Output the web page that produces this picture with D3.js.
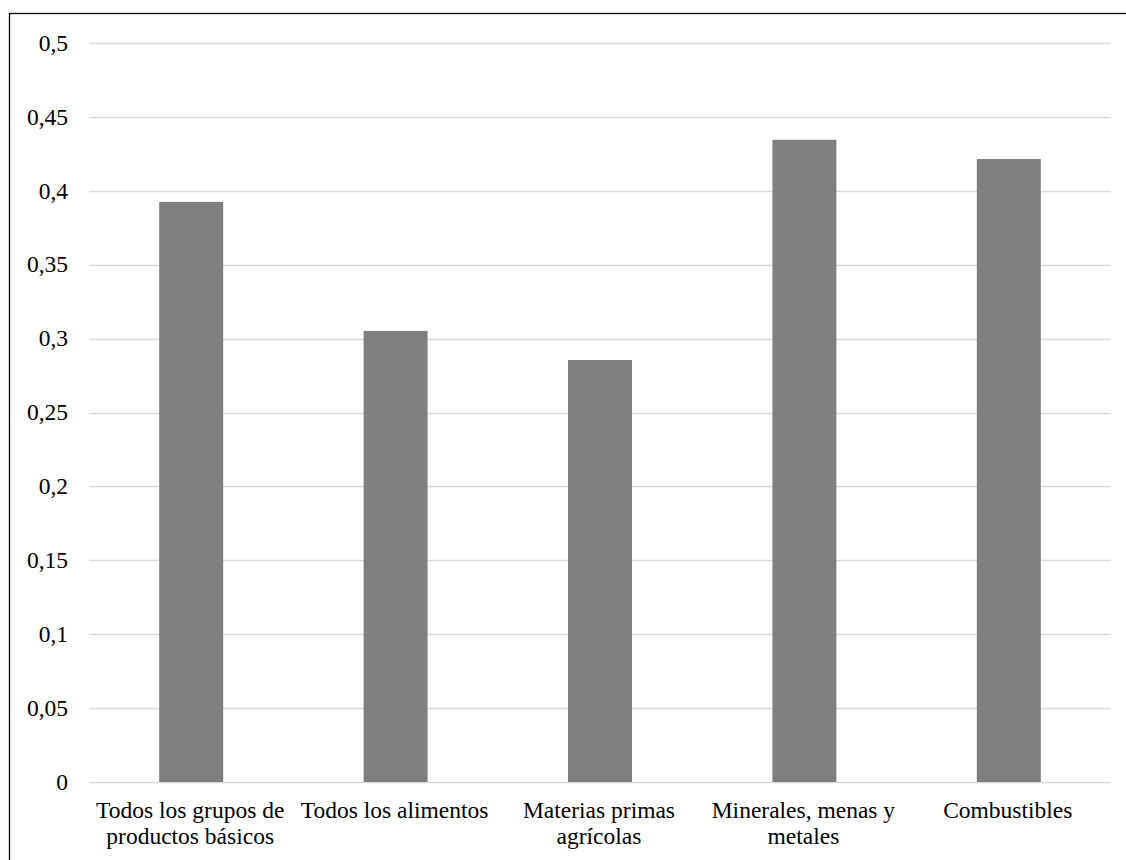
<!DOCTYPE html>
<html>
<head>
<meta charset="utf-8">
<script src="https://cdn.jsdelivr.net/npm/d3@7"></script>
<style>
  html, body { margin: 0; padding: 0; background: #fff; }
  svg { display: block; }
  .lbl { font-family: "Liberation Serif", "Times New Roman", Tinos, "DejaVu Serif", "Noto Serif", serif; }
</style>
</head>
<body>
<svg id="chart" width="1126" height="860"></svg>
<script>
// Categories (two-line labels) and their values
const categories = [
  "Todos los grupos de productos básicos",
  "Todos los alimentos",
  "Materias primas agrícolas",
  "Minerales, menas y metales",
  "Combustibles"
];
const labelLines = [
  ["Todos los grupos de", "productos básicos"],
  ["Todos los alimentos"],
  ["Materias primas", "agrícolas"],
  ["Minerales, menas y", "metales"],
  ["Combustibles"]
];
const values = [0.3925, 0.3052, 0.2855, 0.4345, 0.4215];
const yTicks = [0, 0.05, 0.1, 0.15, 0.2, 0.25, 0.3, 0.35, 0.4, 0.45, 0.5];

const svg = d3.select("#chart");
const fontSize = 23.5;

// Outer frame
svg.append("rect")
  .attr("x", 9.5).attr("y", 13.5)
  .attr("width", 1130).attr("height", 860)
  .attr("fill", "none").attr("stroke", "#000").attr("stroke-width", 1.3);

const plot = { left: 89, right: 1111, top: 43, bottom: 782 };

const x = d3.scaleBand()
  .domain(categories)
  .range([plot.left, plot.right])
  .paddingInner(0.687)
  .paddingOuter(0.3435);

const y = d3.scaleLinear().domain([0, 0.5]).range([plot.bottom, plot.top]);

// Gridlines
svg.append("g")
  .selectAll("line")
  .data(yTicks)
  .join("line")
  .attr("x1", plot.left).attr("x2", plot.right)
  .attr("y1", d => Math.round(y(d)) + 0.5)
  .attr("y2", d => Math.round(y(d)) + 0.5)
  .attr("stroke", "#d9d9d9").attr("stroke-width", 1.6);

// Y axis labels
const fmt = d => String(d).replace(".", ",");
svg.append("g")
  .selectAll("text")
  .data(yTicks)
  .join("text")
  .attr("class", "lbl")
  .attr("x", 68)
  .attr("y", d => y(d))
  .attr("dy", "0.33em")
  .attr("text-anchor", "end")
  .attr("font-size", fontSize)
  .attr("fill", "#000")
  .text(fmt);

// Bars
svg.append("g")
  .selectAll("rect")
  .data(values)
  .join("rect")
  .attr("x", (d, i) => x(categories[i]))
  .attr("width", x.bandwidth())
  .attr("y", d => y(d))
  .attr("height", d => y(0) - y(d))
  .attr("fill", "#7f7f7f");

// Category labels
const labels = svg.append("g")
  .selectAll("text")
  .data(categories)
  .join("text")
  .attr("class", "lbl")
  .attr("x", d => x(d) + x.bandwidth() / 2 - 1)
  .attr("y", 818)
  .attr("text-anchor", "middle")
  .attr("font-size", fontSize)
  .attr("fill", "#000");

labels.each(function(d, i) {
  const t = d3.select(this);
  labelLines[i].forEach((line, j) => {
    t.append("tspan")
      .attr("x", x(d) + x.bandwidth() / 2 - 1)
      .attr("dy", j === 0 ? 0 : 26)
      .text(line);
  });
});
</script>
</body>
</html>
